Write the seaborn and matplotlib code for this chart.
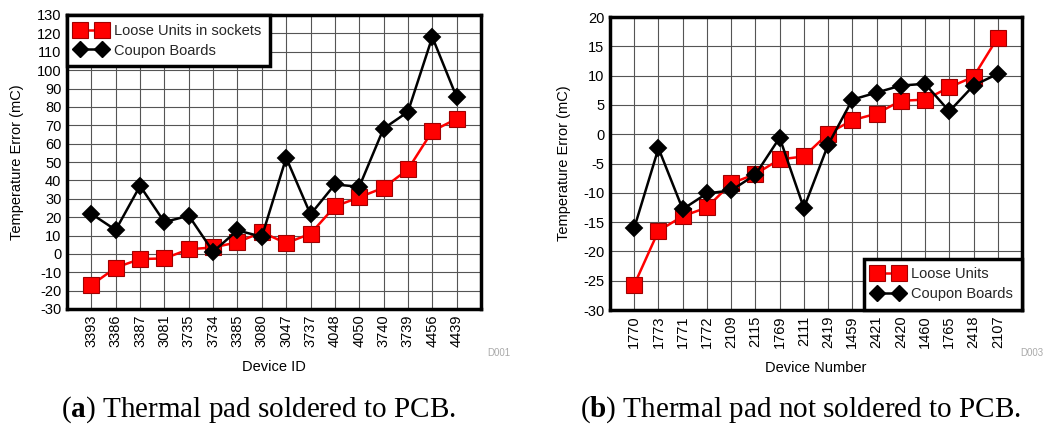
import numpy as np
import pandas as pd
import matplotlib
matplotlib.use("Agg")
import matplotlib.pyplot as plt
import seaborn as sns
from matplotlib.lines import Line2D

# ---- data ----
ids_a = ["3393", "3386", "3387", "3081", "3735", "3734", "3385", "3080",
         "3047", "3737", "4048", "4050", "3740", "3739", "4456", "4439"]
loose_a = [-17, -7.5, -2.8, -2.5, 2.5, 3.5, 6.3, 11.8, 5.8, 11, 25.8, 30.8, 36, 46, 66.8, 73.5]
coupon_a = [21.8, 13, 37, 17.3, 20.8, 1.2, 12.8, 9.3, 52.3, 21.5, 37.8, 36.5, 68.2, 77.3, 118, 85.3]

ids_b = ["1770", "1773", "1771", "1772", "2109", "2115", "1769", "2111",
         "2419", "1459", "2421", "2420", "1460", "1765", "2418", "2107"]
loose_b = [-25.7, -16.5, -14, -12.5, -8.4, -6.8, -4.3, -3.8, 0.1, 2.4, 3.5, 5.7, 5.9, 8, 9.8, 16.5]
coupon_b = [-16, -2.4, -12.8, -10.1, -9.6, -6.9, -0.6, -12.6, -1.8, 5.9, 7.1, 8.3, 8.6, 3.9, 8.3, 10.3]

sns.set_theme(style="white")
plt.rcParams["font.family"] = ["Liberation Sans", "DejaVu Sans"]
plt.rcParams["mathtext.fontset"] = "custom"
plt.rcParams["mathtext.rm"] = "Liberation Serif"
plt.rcParams["mathtext.bf"] = "Liberation Serif:bold"

RED = "#ff0000"
BLACK = "#000000"
FS = 10.5

fig = plt.figure(figsize=(10.45, 4.29), dpi=100)
fig.patch.set_facecolor("white")


def make_df(ids, loose, coupon, loose_name):
    return pd.DataFrame({
        "Device": ids + ids,
        "Value": loose + coupon,
        "Series": [loose_name] * len(ids) + ["Coupon Boards"] * len(ids),
    })


def draw(ax, ids, loose, coupon, loose_name, ylim, ystep, xlabel, legend_loc):
    df = make_df(ids, loose, coupon, loose_name)
    sns.pointplot(data=df, x="Device", y="Value", hue="Series",
                  hue_order=[loose_name, "Coupon Boards"],
                  palette={loose_name: RED, "Coupon Boards": BLACK},
                  markers=["s", "D"], linestyles=["-", "-"],
                  errorbar=None, dodge=False, ax=ax, legend=False,
                  markersize=9, linewidth=1.8)
    for ln in ax.get_lines():
        c = matplotlib.colors.to_hex(ln.get_color())
        if c == RED:
            ln.set_markeredgecolor("#a00000")
            ln.set_markeredgewidth(0.8)
            ln.set_markersize(11)
            ln.set_zorder(3)
        else:
            ln.set_markeredgecolor(BLACK)
            ln.set_markersize(8)
            ln.set_zorder(4)
    ax.set_xlim(-1, len(ids))
    ax.set_ylim(*ylim)
    yt = np.arange(ylim[0], ylim[1] + 0.1, ystep)
    ax.set_yticks(yt)
    ax.set_yticklabels([f"{int(v)}" for v in yt])
    ax.set_xticks(range(len(ids)))
    ax.set_xticklabels(ids, rotation=90)
    ax.grid(True, color="#555555", linewidth=0.8)
    ax.set_axisbelow(True)
    ax.tick_params(axis="both", length=0, labelsize=FS, colors="black", pad=4)
    for s in ax.spines.values():
        s.set_visible(True)
        s.set_color("black")
        s.set_linewidth(2.5)
    ax.set_ylabel("Temperature Error (mC)", fontsize=FS, color="black", labelpad=9)
    ax.set_xlabel(xlabel, fontsize=FS, color="black", labelpad=9)
    handles = [
        Line2D([], [], color=RED, marker="s", markersize=11, markeredgecolor="#a00000",
               markeredgewidth=0.8, linewidth=1.8),
        Line2D([], [], color=BLACK, marker="D", markersize=8, linewidth=1.8),
    ]
    leg = ax.legend(handles, [loose_name, "Coupon Boards"], loc=legend_loc,
                    borderaxespad=0, fontsize=FS, numpoints=2, handlelength=2.1,
                    handletextpad=0.55, fancybox=False, framealpha=1,
                    labelspacing=0.4, borderpad=0.6)
    leg.get_frame().set_edgecolor("black")
    leg.get_frame().set_linewidth(2.5)


ax1 = fig.add_axes([67 / 1045, 120 / 429, 414 / 1045, 294 / 429])
draw(ax1, ids_a, loose_a, coupon_a, "Loose Units in sockets", (-30, 130), 10,
     "Device ID", "upper left")

ax2 = fig.add_axes([610 / 1045, 119 / 429, 412 / 1045, 293 / 429])
draw(ax2, ids_b, loose_b, coupon_b, "Loose Units", (-30, 20), 5,
     "Device Number", "lower right")

fig.text(487 / 1045, 1 - 353 / 429, "D001", fontsize=7, color="#aaaaaa",
         ha="left", va="center")
fig.text(1043 / 1045, 1 - 353 / 429, "D003", fontsize=7, color="#aaaaaa",
         ha="right", va="center")

fig.text(258 / 1045, 1 - 410 / 429, r"($\mathbf{a}$) Thermal pad soldered to PCB.",
         fontsize=21, family="Liberation Serif", ha="center", va="center", color="black")
fig.text(800 / 1045, 1 - 410 / 429, r"($\mathbf{b}$) Thermal pad not soldered to PCB.",
         fontsize=21, family="Liberation Serif", ha="center", va="center", color="black")

fig.savefig("out.png", dpi=100, facecolor="white")
